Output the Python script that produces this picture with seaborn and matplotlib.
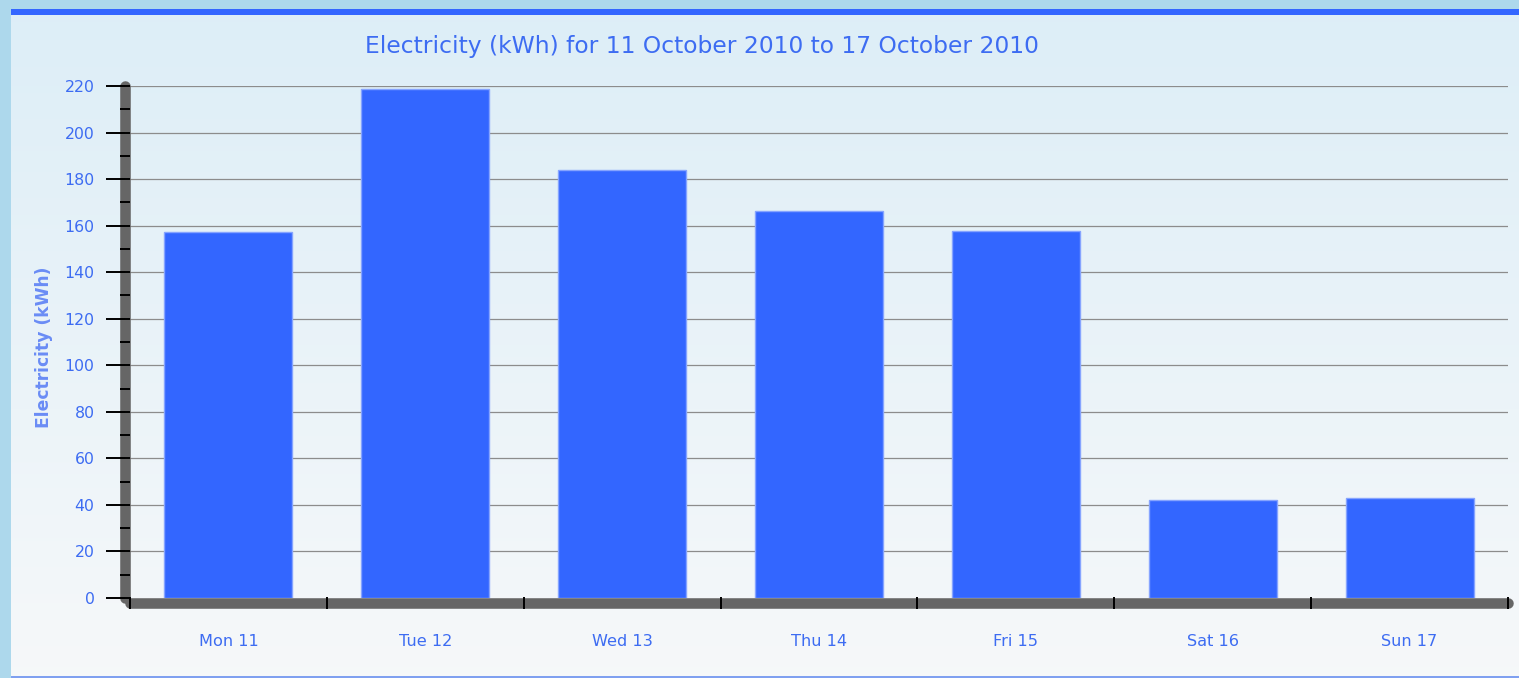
import numpy as np
import seaborn as sns
import matplotlib.pyplot as plt
from matplotlib.patches import Rectangle
from matplotlib.ticker import MultipleLocator, FixedLocator

days = ['Mon 11', 'Tue 12', 'Wed 13', 'Thu 14', 'Fri 15', 'Sat 16', 'Sun 17']
kwh = [157.2, 218.7, 184.0, 166.5, 157.5, 42.3, 43.0]
y_ticks = [0, 20, 40, 60, 80, 100, 120, 140, 160, 180, 200, 220]

title = 'Electricity (kWh) for 11 October 2010 to 17 October 2010'
blue = '#3366FF'
text_blue = '#3d6cf2'

sns.set_style('white')
plt.rcParams['font.family'] = ['DejaVu Sans']

W, H = 1519, 678
fig = plt.figure(figsize=(W / 100, H / 100), dpi=100)
fig.patch.set_facecolor('#add8ec')

# panel background gradient
bg = fig.add_axes([0, 0, 1, 1], zorder=-5)
bg.set_xlim(0, W)
bg.set_ylim(H, 0)
bg.axis('off')
grad = np.linspace(0, 1, 256)[:, None]
top_c = np.array([0.867, 0.933, 0.969])
bot_c = np.array([0.965, 0.973, 0.98])
img = top_c[None, None, :] * (1 - grad[..., None]) + bot_c[None, None, :] * grad[..., None]
bg.imshow(img, extent=[11, W, 676, 15], aspect='auto', interpolation='bilinear')
bg.add_patch(Rectangle((11, 9), W - 11, 6, color=blue, lw=0))
bg.add_patch(Rectangle((11, 676), W - 11, 2, color='#7fa0f0', lw=0))

ax = fig.add_axes([130 / W, 80 / H, (1508 - 130) / W, (598 - 86) / H])
ax.set_facecolor('none')

# grid lines drawn by hand so ticks can sit above the thick spines
for yv in y_ticks[1:]:
    ax.axhline(yv, color='#8c8c8c', linewidth=0.9, zorder=1)

sns.barplot(x=days, y=kwh, color=blue, saturation=1, width=0.65,
            edgecolor='#86a4ff', linewidth=1, ax=ax, zorder=3)

ax.set_xlim(-0.5, len(days) - 0.5)
ax.set_ylim(0, 220)
ax.yaxis.set_major_locator(FixedLocator(y_ticks))
ax.yaxis.set_minor_locator(MultipleLocator(10))
ax.yaxis.remove_overlapping_locs = False
ax.xaxis.set_minor_locator(FixedLocator(np.arange(-0.5, len(days), 1)))
ax.grid(False)

for side in ['top', 'right']:
    ax.spines[side].set_visible(False)
for side in ['left', 'bottom']:
    sp = ax.spines[side]
    sp.set_visible(True)
    sp.set_color('#666666')
    sp.set_linewidth(7.6)
    sp.set_capstyle('round')
    sp.set_position(('outward', 3.6))
    sp.set_zorder(4)
ax.xaxis.set_zorder(6)
ax.yaxis.set_zorder(6)

ax.tick_params(axis='y', which='major', direction='out', length=14, width=1.4,
               color='black', labelcolor=text_blue, labelsize=11.3, pad=8, left=True)
ax.tick_params(axis='y', which='minor', direction='inout', length=7.5, width=1.4,
               color='black', left=True)
ax.tick_params(axis='x', which='major', length=0, labelcolor=text_blue,
               labelsize=11.6, pad=22, bottom=True)
ax.tick_params(axis='x', which='minor', direction='inout', length=8, width=1.4,
               color='black', bottom=True)

ax.set_xlabel('')
ax.set_ylabel('Electricity (kWh)', color='#6a8cf5', fontsize=12.3, fontweight='bold')
ax.yaxis.set_label_coords(-77 / 1378, 0.49)

fig.text(702 / W, 1 - 47 / H, title, ha='center', va='center',
         color=text_blue, fontsize=16.8)

fig.savefig('out.png', dpi=100)
